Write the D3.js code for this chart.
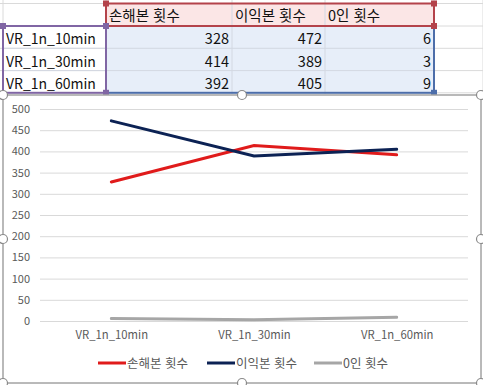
<!DOCTYPE html>
<html lang="ko">
<head>
<meta charset="UTF-8">
<title>chart</title>
<script src="https://d3js.org/d3.v7.min.js"></script>
<style>
  body { margin: 0; background: #fff; }
  text { font-family: "Noto Sans CJK KR", "Noto Sans", sans-serif; }
</style>
</head>
<body>
<script>
var categories = ["VR_1n_10min", "VR_1n_30min", "VR_1n_60min"];
var seriesNames = ["손해본 횟수", "이익본 횟수", "0인 횟수"];
var loss = [328, 414, 392];
var gain = [472, 389, 405];
var zero = [6, 3, 9];
var yTicks = [0, 50, 100, 150, 200, 250, 300, 350, 400, 450, 500];
var colors = ["#e01b1b", "#0c2254", "#a6a6a6"];

var series = [loss, gain, zero];

var svg = d3.select("body").append("svg")
  .attr("width", 483).attr("height", 385);

// ---- spreadsheet part ----
var colX = [3, 106, 232, 325, 434, 483];
var rowY = [3.5, 26, 48.3, 70.6, 92.8];

var sheet = svg.append("g");

// gridlines
sheet.selectAll("line.h").data(rowY).enter().append("line")
  .attr("x1", 0).attr("x2", 483)
  .attr("y1", function(d) { return d; }).attr("y2", function(d) { return d; })
  .attr("stroke", "#dadada");
sheet.selectAll("line.v").data(colX).enter().append("line")
  .attr("x1", function(d) { return d; }).attr("x2", function(d) { return d; })
  .attr("y1", 0).attr("y2", 94)
  .attr("stroke", "#dadada");

// range fills
sheet.append("rect").attr("x", colX[1]).attr("y", rowY[0])
  .attr("width", colX[4] - colX[1]).attr("height", rowY[1] - rowY[0])
  .attr("fill", "#fbe6e6");
sheet.append("rect").attr("x", colX[1]).attr("y", rowY[1])
  .attr("width", colX[4] - colX[1]).attr("height", rowY[4] - rowY[1])
  .attr("fill", "#e7eef9");
// inner cell lines
[colX[2], colX[3]].forEach(function(x) {
  sheet.append("line").attr("x1", x).attr("x2", x).attr("y1", rowY[0]).attr("y2", rowY[4])
    .attr("stroke", "#d3d8e2");
});
[rowY[2], rowY[3]].forEach(function(y) {
  sheet.append("line").attr("x1", colX[0]).attr("x2", colX[4]).attr("y1", y).attr("y2", y)
    .attr("stroke", "#d3d8e2");
});

// range borders
function border(x0, y0, x1, y1, c) {
  sheet.append("rect").attr("x", x0).attr("y", y0)
    .attr("width", x1 - x0).attr("height", y1 - y0)
    .attr("fill", "none").attr("stroke", c).attr("stroke-width", 2);
}
border(colX[1], rowY[1], colX[4], rowY[4], "#4d6eaa");
border(colX[0], rowY[1], colX[1], rowY[4], "#8066a4");
border(colX[1], rowY[0], colX[4], rowY[1], "#b4434b");

function handle(x, y, c) {
  sheet.append("rect").attr("x", x - 3).attr("y", y - 3)
    .attr("width", 6).attr("height", 6).attr("fill", c);
}
handle(colX[1], rowY[0], "#b4434b");
handle(colX[4], rowY[0], "#b4434b");
handle(colX[4], rowY[1], "#b4434b");
handle(colX[0], rowY[1], "#8066a4");
handle(colX[1], rowY[1], "#8066a4");
handle(colX[1], rowY[4], "#8066a4");
handle(colX[4], rowY[4], "#4d6eaa");

// header text
seriesNames.forEach(function(n, i) {
  sheet.append("text").attr("x", colX[i + 1] + 3).attr("y", rowY[1] - 5)
    .attr("font-size", 14.5).attr("fill", "#111").text(n);
});
categories.forEach(function(c, r) {
  sheet.append("text").attr("x", colX[0] + 3).attr("y", rowY[r + 2] - 4)
    .attr("font-size", 14).attr("fill", "#111").text(c);
  series.forEach(function(s, i) {
    sheet.append("text").attr("x", colX[i + 2] - 3).attr("y", rowY[r + 2] - 4)
      .attr("font-size", 14.5).attr("fill", "#111").attr("text-anchor", "end").text(s[r]);
  });
});

// ---- chart part ----
var chart = svg.append("g");
chart.append("rect").attr("x", 3).attr("y", 95).attr("width", 478).attr("height", 288)
  .attr("fill", "#fff").attr("stroke", "#a3a3a3").attr("stroke-width", 1.5);

var x = d3.scalePoint().domain(categories).range([40, 468]).padding(0.5);
var y = d3.scaleLinear().domain([0, 500]).range([321, 109]);

var yAxis = chart.append("g").attr("transform", "translate(40,0)")
  .call(d3.axisLeft(y).tickValues(yTicks).tickSize(-428).tickPadding(10));
yAxis.select(".domain").remove();
yAxis.selectAll(".tick line").attr("stroke", "#d9d9d9");
yAxis.selectAll(".tick text").attr("fill", "#595959").attr("font-size", 11)
  .attr("font-family", "'Noto Sans', sans-serif");

var xAxis = chart.append("g").attr("transform", "translate(0,321)")
  .call(d3.axisBottom(x).tickSize(0).tickPadding(10));
xAxis.select(".domain").remove();
xAxis.selectAll(".tick text").attr("fill", "#595959").attr("font-size", 11.3)
  .attr("font-family", "'Noto Sans', sans-serif");

var line = d3.line()
  .x(function(d, i) { return x(categories[i]); })
  .y(function(d) { return y(d); });

series.forEach(function(s, i) {
  chart.append("path").datum(s).attr("d", line)
    .attr("fill", "none").attr("stroke", colors[i]).attr("stroke-width", 3)
    .attr("stroke-linecap", "round");
});

// legend
var legendX = [98, 207, 314];
var legend = chart.selectAll("g.leg").data(seriesNames).enter().append("g")
  .attr("transform", function(d, i) { return "translate(" + legendX[i] + ",363)"; });
legend.append("line").attr("x1", 0).attr("x2", 28).attr("y1", 0).attr("y2", 0)
  .attr("stroke", function(d, i) { return colors[i]; }).attr("stroke-width", 3);
legend.append("text").attr("x", 29).attr("y", 4.5).attr("font-size", 12.5)
  .attr("fill", "#595959").text(function(d) { return d; });

// chart handles
var hs = [[3, 95], [242, 95], [481, 95], [3, 239], [481, 239], [3, 383], [242, 383], [481, 383]];
chart.selectAll("circle.h").data(hs).enter().append("circle")
  .attr("cx", function(d) { return d[0]; }).attr("cy", function(d) { return d[1]; })
  .attr("r", 4.5).attr("fill", "#fff").attr("stroke", "#8a8a8a").attr("stroke-width", 1.2);
</script>
</body>
</html>
